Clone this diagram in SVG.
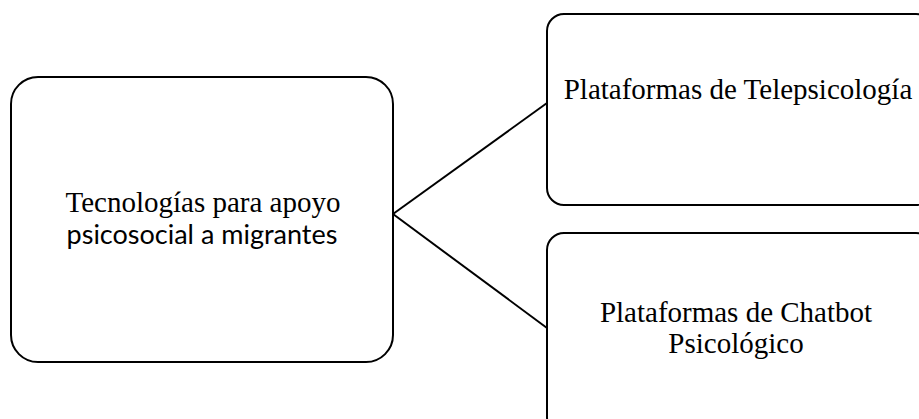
<svg xmlns="http://www.w3.org/2000/svg" width="919" height="419" viewBox="0 0 919 419">
<style>
.box{fill:#fff;stroke:#000;stroke-width:2}
.conn{stroke:#000;stroke-width:2;fill:none}
.serif{font-family:"Liberation Serif","Times New Roman",serif;font-size:29px;fill:#000}
.sans{font-family:Lato,"Liberation Sans",sans-serif;font-size:27px;fill:#000}
</style>
<rect width="919" height="419" fill="#fff"/>
<g id="connectors">
<line class="conn" x1="393" y1="214" x2="547" y2="103"/>
<line class="conn" x1="393" y1="214" x2="547" y2="328"/>
</g>
<g id="node-root">
<rect class="box" x="11" y="77" width="382" height="285" rx="27" ry="27"/>
<text class="serif" x="203" y="212" text-anchor="middle">Tecnologías para apoyo</text>
<text class="sans" x="202" y="244" text-anchor="middle">psicosocial a migrantes</text>
</g>
<g id="node-telepsicologia">
<rect class="box" x="547" y="14" width="386" height="191" rx="17" ry="17"/>
<text class="serif" x="738" y="99" text-anchor="middle">Plataformas de Telepsicología</text>
</g>
<g id="node-chatbot">
<rect class="box" x="547" y="233" width="386" height="201" rx="17" ry="17"/>
<text class="serif" x="736" y="322" text-anchor="middle">Plataformas de Chatbot</text>
<text class="serif" x="736" y="353" text-anchor="middle">Psicológico</text>
</g>
</svg>
